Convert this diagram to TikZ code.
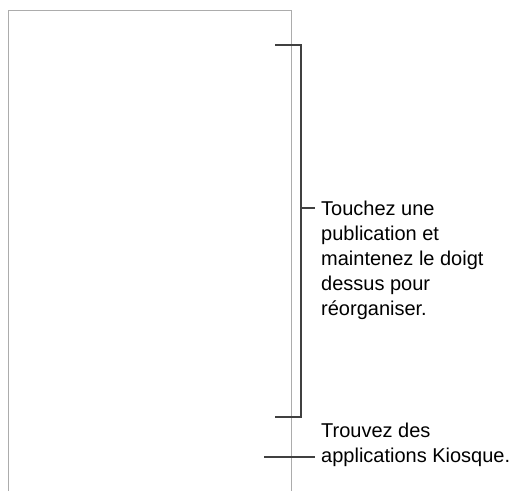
\documentclass[tikz,border=0pt]{standalone}
\usepackage{fontspec}
\setmainfont{Liberation Sans}
\usetikzlibrary{positioning}

\definecolor{screengray}{RGB}{172,172,172}
\definecolor{calloutgray}{RGB}{64,64,64}

\begin{document}
\begin{tikzpicture}[x=1pt,y=-1pt,
  callout/.style={draw=calloutgray,line width=1.3pt},
  labeltext/.style={anchor=north west,align=left,inner xsep=6pt,inner ysep=0pt,
    font=\fontsize{20}{25}\selectfont}]
  \useasboundingbox (0,0) rectangle (513,491);
  % screen outline
  \draw[screengray,line width=1pt] (8,491) |- (291,10) -- (291,491);
  % bracket
  \coordinate (brtop) at (275,45);
  \coordinate (brbot) at (275,417);
  \draw[callout] (brtop) -- ++(26,0) |- (brbot);
  \coordinate (brmid) at (301,208);
  \node[labeltext] (reorg) at (315,201)
    {Touchez une\\publication et\\maintenez le doigt\\dessus pour\\réorganiser.};
  \draw[callout] (brmid) -- (brmid -| reorg.west);
  % kiosque
  \coordinate (kiosk) at (264,457);
  \node[labeltext] (kiosque) at (315,423)
    {Trouvez des\\applications Kiosque.};
  \draw[callout] (kiosk) -- (kiosk -| kiosque.west);
\end{tikzpicture}
\end{document}
